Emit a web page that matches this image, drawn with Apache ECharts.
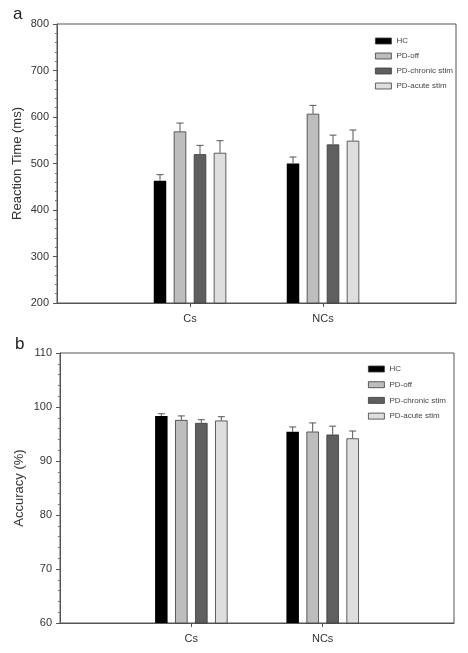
<!DOCTYPE html>
<html>
<head>
<meta charset="utf-8">
<script src="https://cdn.jsdelivr.net/npm/echarts@6/dist/echarts.min.js"></script>
<style>html,body{margin:0;padding:0;background:#fff}#c{width:468px;height:653px}</style>
</head>
<body>
<div id="c"></div>
<script>
// ---- data ----
const categories = ['', 'Cs', 'NCs', ''];
const groupNames = ['Cs', 'NCs'];
const seriesNames = ['HC', 'PD-off', 'PD-chronic stim', 'PD-acute stim'];

const rtHC = [463, 500];
const rtHCErr = [13, 14];
const rtOff = [569, 607];
const rtOffErr = [18, 18];
const rtChronic = [520, 541];
const rtChronicErr = [19, 20];
const rtAcute = [523, 549];
const rtAcuteErr = [26, 23];

const accHC = [98.35, 95.4];
const accHCErr = [0.4, 0.9];
const accOff = [97.6, 95.45];
const accOffErr = [0.75, 1.6];
const accChronic = [97.05, 94.9];
const accChronicErr = [0.6, 1.55];
const accAcute = [97.5, 94.2];
const accAcuteErr = [0.7, 1.35];

const rtTicks = [200, 300, 400, 500, 600, 700, 800];
const accTicks = [60, 70, 80, 90, 100, 110];

// ---- styling ----
const FONT = 'Liberation Sans, Arial, sans-serif';
const fills = ['#000000', '#bdbdbd', '#5f5f5f', '#dedede'];
const BAR_W = 12.5;
const GAP_PX = 7.5;
const AXIS_C = '#555';

const rtVals = [rtHC, rtOff, rtChronic, rtAcute];
const rtErrs = [rtHCErr, rtOffErr, rtChronicErr, rtAcuteErr];
const accVals = [accHC, accOff, accChronic, accAcute];
const accErrs = [accHCErr, accOffErr, accChronicErr, accAcuteErr];

function catIndex(name) { return categories.indexOf(name); }

function errRender(si) {
  return function (params, api) {
    const x = api.value(0), v = api.value(1), e = api.value(2);
    const b = api.coord([x, v]);
    const t = api.coord([x, v + e]);
    const off = (si - 1.5) * (BAR_W + GAP_PX);
    const cx = b[0] + off;
    const st = { stroke: '#555', lineWidth: 1 };
    return {
      type: 'group',
      children: [
        { type: 'line', shape: { x1: cx, y1: b[1], x2: cx, y2: t[1] }, style: st },
        { type: 'line', shape: { x1: cx - 3.5, y1: t[1], x2: cx + 3.5, y2: t[1] }, style: st }
      ]
    };
  };
}

const series = [];
function addPanel(gi, vals, errs) {
  vals.forEach((arr, si) => {
    series.push({
      name: seriesNames[si],
      type: 'bar',
      xAxisIndex: gi, yAxisIndex: gi,
      barWidth: BAR_W,
      barGap: (GAP_PX / BAR_W * 100) + '%',
      itemStyle: { color: fills[si], borderColor: '#3a3a3a', borderWidth: si === 0 ? 0 : 0.8 },
      data: arr.map((v, i) => [catIndex(groupNames[i]), v]),
      z: 2
    });
  });
  errs.forEach((arr, si) => {
    series.push({
      type: 'custom',
      xAxisIndex: gi, yAxisIndex: gi,
      renderItem: errRender(si),
      data: arr.map((e, i) => [catIndex(groupNames[i]), vals[si][i], e]),
      z: 3,
      silent: true
    });
  });
}
addPanel(0, rtVals, rtErrs);
addPanel(1, accVals, accErrs);

function xAxisCfg(gi) {
  return {
    type: 'category', gridIndex: gi, data: categories, boundaryGap: false,
    axisLine: { lineStyle: { color: AXIS_C, width: 1 } },
    axisTick: { show: true, length: 4, inside: false, interval: (i) => i === 1 || i === 2, lineStyle: { color: AXIS_C } },
    axisLabel: { color: '#333', fontSize: 11, fontFamily: FONT, margin: 10, interval: 0 },
    splitLine: { show: false }
  };
}
function yAxisCfg(gi, ticks, name, gap) {
  return {
    type: 'value', gridIndex: gi,
    min: ticks[0], max: ticks[ticks.length - 1], interval: ticks[1] - ticks[0],
    name: name, nameLocation: 'middle', nameGap: gap, nameMoveOverlap: false,
    nameTextStyle: { fontSize: 13, color: '#333', fontFamily: FONT },
    axisLine: { show: true, lineStyle: { color: AXIS_C, width: 1 } },
    axisTick: { show: true, length: 4, lineStyle: { color: AXIS_C } },
    minorTick: { show: true, splitNumber: 5, length: 2, lineStyle: { color: '#777' } },
    axisLabel: { color: '#333', fontSize: 11, fontFamily: FONT, margin: 8 },
    splitLine: { show: false }
  };
}

function legendCfg(left, top, gap) {
  return {
    orient: 'vertical', left: left, top: top, itemWidth: 16, itemHeight: 6, itemGap: gap,
    padding: 0,
    icon: 'rect',
    data: seriesNames,
    itemStyle: { borderWidth: 0.8, borderColor: '#3a3a3a' },
    textStyle: { fontSize: 8, color: '#444', fontFamily: FONT },
    selectedMode: false
  };
}

const option = {
  animation: false,
  backgroundColor: '#fff',
  textStyle: { fontFamily: FONT },
  title: [
    { text: 'a', left: 8, top: 1, textStyle: { fontSize: 17, fontWeight: 'normal', color: '#222', fontFamily: FONT } },
    { text: 'b', left: 10, top: 331, textStyle: { fontSize: 17, fontWeight: 'normal', color: '#222', fontFamily: FONT } }
  ],
  legend: [legendCfg(375, 37, 7), legendCfg(368, 365, 7.7)],
  grid: [
    { left: 57, right: 12, top: 24, bottom: 350, show: true, borderColor: AXIS_C, borderWidth: 1, backgroundColor: 'transparent' },
    { left: 60, right: 14, top: 353, bottom: 30, show: true, borderColor: AXIS_C, borderWidth: 1, backgroundColor: 'transparent' }
  ],
  xAxis: [xAxisCfg(0), xAxisCfg(1)],
  yAxis: [yAxisCfg(0, rtTicks, 'Reaction Time (ms)', 33), yAxisCfg(1, accTicks, 'Accuracy (%)', 34)],
  series: series
};

const chart = echarts.init(document.getElementById('c'), null, { renderer: 'canvas' });
chart.setOption(option);
</script>
</body>
</html>
